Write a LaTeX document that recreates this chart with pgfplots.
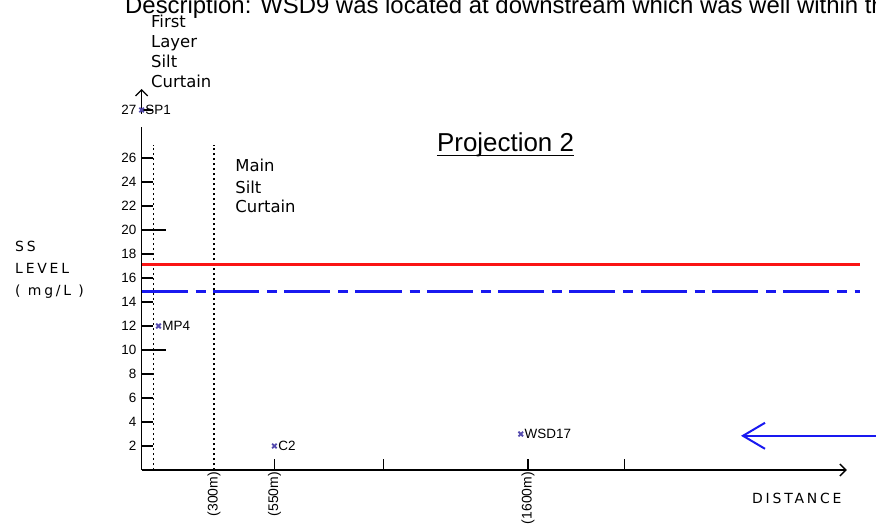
\documentclass[border=0pt]{standalone}
\usepackage{fontspec}
\setmainfont{Liberation Sans}
\newfontfamily\cad{DejaVu Sans}
\newfontfamily\cadsp[LetterSpace=20]{DejaVu Sans}
\usepackage{pgfplots}
\usepackage{pgfplotstable}
\pgfplotsset{compat=1.18}
\usetikzlibrary{arrows.meta}

\definecolor{ptblue}{RGB}{85,75,175}
\definecolor{lineblue}{RGB}{25,25,240}
\definecolor{linered}{RGB}{250,20,20}

% monitoring points, distance (m) vs SS level (mg/L)
% SP1 = 27, drawn in the slot above the axis break (y=30)
\pgfplotstableread{
x    y   label
0    30  SP1
70   12  MP4
550  2   C2
1570 3   WSD17
}\points

\begin{document}
\begin{tikzpicture}
\begin{axis}[
  scale only axis, width=705.2bp, height=381bp,
  xmin=0, xmax=2920, ymin=0, ymax=31.75,
  axis x line=bottom, axis y line=left,
  axis line style={line width=1.5bp, black},
  x axis line style={-{Straight Barb[length=6bp,width=12bp,line width=1.3bp]}},
  y axis line style={-{Straight Barb[length=6bp,width=12bp,line width=1.3bp]}},
  tick align=inside, major tick length=11bp,
  tick style={black, line width=1.2bp},
  xtick={550,1000,1600,2000}, xticklabels={(550m),,(1600m),},
  extra x ticks={300}, extra x tick labels={(300m)},
  extra x tick style={major tick length=0pt},
  xticklabel style={rotate=90, anchor=east, font=\fontsize{14}{14}\selectfont, inner sep=2bp},
  ytick={2,4,...,26,30}, yticklabels={2,4,6,8,10,12,14,16,18,20,22,24,26,27},
  extra y ticks={10,20}, extra y tick labels={},
  extra y tick style={major tick length=24bp},
  yticklabel style={font=\fontsize{13.5}{13.5}\selectfont, inner sep=1bp, xshift=-4bp},
  clip=false,
]
% silt curtains
\addplot[black, line width=1.3bp, dash pattern=on 2.5bp off 2.5bp] coordinates {(50,0) (50,27.1)};
\addplot[black, line width=1.3bp, dash pattern=on 2.5bp off 2.5bp] coordinates {(300,0) (300,27.1)};
% limit levels
\addplot[linered, line width=2.7bp] coordinates {(0,17.1) (2975,17.1)};
\addplot[lineblue, line width=2.7bp, dash pattern=on 46bp off 8bp on 10bp off 7.3bp] coordinates {(0,14.9) (2975,14.9)};

\addplot[only marks, mark=x, mark size=3.2bp, mark options={ptblue, line width=1.8bp},
  point meta=explicit symbolic, nodes near coords,
  every node near coord/.append style={anchor=west, text=black, font=\fontsize{13.5}{13.5}\selectfont, inner sep=1bp, xshift=2bp}]
  table[x=x, y=y, meta=label] {\points};

% flow direction
\draw[lineblue, line width=2bp, {Straight Barb[length=22bp,width=26bp,line width=2bp]}-] (axis cs:2482,2.85) -- (axis cs:3100,2.85);

\node[anchor=base west, inner sep=0, font=\fontsize{24}{24}\selectfont] at (axis cs:-68.7,38.0) {Description: WSD9 was located at downstream which was well within th};

\node[anchor=base west, inner sep=0, font=\fontsize{26}{26}\selectfont] (proj) at (axis cs:1223,26.5) {Projection 2};
\draw[line width=1.5bp] ([yshift=-3.5bp]proj.base west) -- ([yshift=-3.5bp]proj.base east);

\node[anchor=base west, inner sep=0, font=\cad\fontsize{16.5}{16.5}\selectfont] at (axis cs:39,36.85) {First};
\node[anchor=base west, inner sep=0, font=\cad\fontsize{16.5}{16.5}\selectfont] at (axis cs:39,35.2) {Layer};
\node[anchor=base west, inner sep=0, font=\cad\fontsize{16.5}{16.5}\selectfont] at (axis cs:39,33.55) {Silt};
\node[anchor=base west, inner sep=0, font=\cad\fontsize{16.5}{16.5}\selectfont] at (axis cs:39,31.9) {Curtain};

\node[anchor=base west, inner sep=0, font=\cad\fontsize{16.5}{16.5}\selectfont] at (axis cs:387.6,24.86) {Main};
\node[anchor=base west, inner sep=0, font=\cad\fontsize{16.5}{16.5}\selectfont] at (axis cs:387.6,23.06) {Silt};
\node[anchor=base west, inner sep=0, font=\cad\fontsize{16.5}{16.5}\selectfont] at (axis cs:387.6,21.44) {Curtain};

\node[anchor=base west, inner sep=0, font=\cadsp\fontsize{14}{14}\selectfont] at (axis cs:-524,18.19) {SS};
\node[anchor=base west, inner sep=0, font=\cadsp\fontsize{14}{14}\selectfont] at (axis cs:-524,16.39) {LEVEL};
\node[anchor=base west, inner sep=0, font=\cadsp\fontsize{14}{14}\selectfont] at (axis cs:-524,14.58) {( mg/L )};

\node[anchor=base west, inner sep=0, font=\cadsp\fontsize{14}{14}\selectfont] at (axis cs:2527.5,-2.83) {DISTANCE};

\coordinate (gA) at (axis cs:-25,28.6);
\coordinate (gB) at (axis cs:25,29.65);
\coordinate (bbA) at (axis cs:-586.3,-4.75);
\coordinate (bbB) at (axis cs:3040.9,39.167);
\end{axis}
\fill[white] (gA) rectangle (gB);
\pgfresetboundingbox
\useasboundingbox (bbA) rectangle (bbB);
\end{tikzpicture}
\end{document}
